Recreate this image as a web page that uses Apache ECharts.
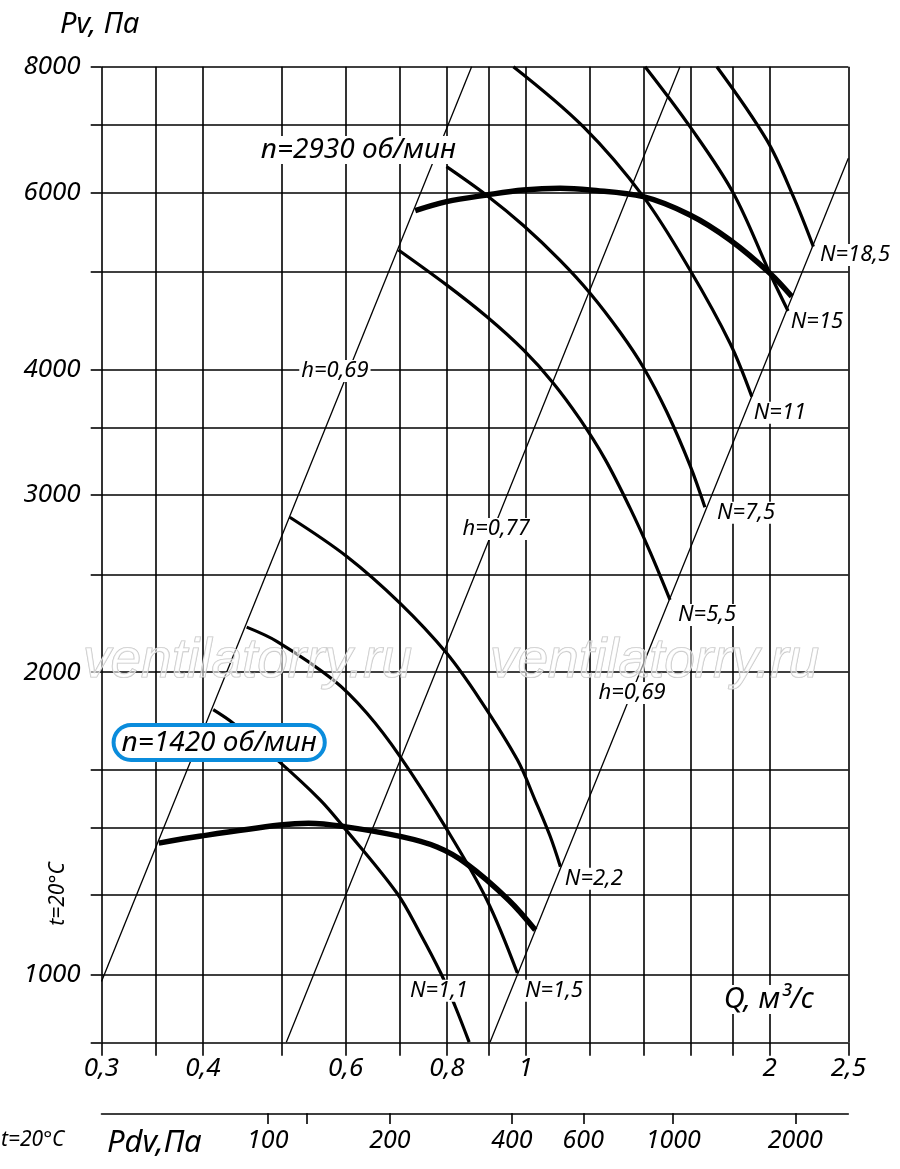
<!DOCTYPE html>
<html>
<head>
<meta charset="utf-8">
<title>Pv - Q</title>
<script src="https://cdn.jsdelivr.net/npm/echarts@6/dist/echarts.min.js"></script>
<style>html,body{margin:0;padding:0;background:#fff;}</style>
</head>
<body>
<div id="main" style="width:900px;height:1169px;"></div>
<script>
// диапазоны осей
var qMin = 0.3, qMax = 2.5;
var pMin = 856, pMax = 8000;
var pdvMin = 38.9, pdvMax = 2703;

// сетка и подписи
var qGrid = [0.3, 0.35, 0.4, 0.5, 0.6, 0.7, 0.8, 0.9, 1, 1.2, 1.4, 1.6, 1.8, 2, 2.5];
var qLabels = [0.3, 0.4, 0.6, 0.8, 1, 2, 2.5];
var pGrid = [1000, 1200, 1400, 1600, 2000, 2500, 3000, 3500, 4000, 5000, 6000, 7000, 8000];
var pLabels = [1000, 2000, 3000, 4000, 6000, 8000];
var pdvTicks = [100, 125, 200, 400, 600, 1000, 2000];
var pdvLabels = [100, 200, 400, 600, 1000, 2000];

// n=2930 об/мин
var thick2930 = [[0.731,5753],[0.799,5873],[0.896,5964],[0.994,6033],[1.103,6057],[1.201,6033],
                 [1.397,5941],[1.595,5697],[1.787,5380],[2.001,4985],[2.129,4726]];
var curveN55 = [[0.697,5258],[0.799,4854],[0.896,4512],[0.994,4182],[1.082,3876],[1.167,3569],
                [1.253,3257],[1.345,2913],[1.424,2634],[1.507,2360]];
var curveN75 = [[0.799,6364],[0.896,5957],[0.994,5561],[1.103,5134],[1.201,4762],[1.308,4355],
                [1.397,4020],[1.493,3630],[1.595,3211],[1.664,2917]];
var curveN11 = [[0.966,8000],[1.178,6973],[1.397,5941],[1.595,5022],[1.787,4247],[1.901,3758]];
var curveN15 = [[1.404,8000],[1.595,6973],[1.804,5988],[2.001,4985],[2.107,4572]];
var curveN185 = [[1.721,8000],[1.983,6765],[2.139,5941],[2.264,5298]];

// n=1420 об/мин
var thick1420 = [[0.353,1352],[0.398,1374],[0.498,1409],[0.540,1415],[0.598,1404],[0.703,1372],
                 [0.778,1340],[0.844,1291],[0.953,1187],[1.028,1108]];
var curveN22 = [[0.512,2851],[0.602,2606],[0.700,2342],[0.799,2089],[0.879,1877],[0.977,1636],
                [1.027,1493],[1.072,1374],[1.104,1281]];
var curveN15low = [[0.453,2217],[0.494,2145],[0.579,1965],[0.637,1821],[0.700,1649],[0.798,1399],
                   [0.896,1187],[0.977,1004]];
var curveN11low = [[0.412,1835],[0.436,1779],[0.494,1636],[0.558,1493],[0.596,1404],[0.694,1206],
                   [0.741,1100],[0.786,1004],[0.819,930],[0.852,857]];

// линии h
var lineH69a = [[0.3,985],[0.858,8000]];
var lineH77 = [[0.507,857],[1.550,8000]];
var lineH69b = [[0.904,857],[2.5,6486]];

// подписи на поле
var noteText = ['N=18,5','N=15','N=11','N=7,5','N=5,5','N=2,2','N=1,1','N=1,5','h=0,69','h=0,77','h=0,69'];
var noteQ = [2.548, 2.287, 2.059, 1.870, 1.674, 1.214, 0.782, 1.084, 0.582, 0.920, 1.353];
var noteP = [5199, 4459, 3621, 2880, 2280, 1246, 964, 964, 3986, 2776, 1907];

var FONT = 'Noto Sans';
var gridLine = {color: '#000', width: 1.6, type: 'solid'};

function fmt(v) { return String(v).replace('.', ','); }

function vLines(values, labels) {
    return values.map(function (v) {
        return {xAxis: v, label: {show: !!labels && labels.indexOf(v) >= 0, formatter: fmt(v)}};
    });
}
function hLines(values, labels) {
    return values.map(function (v) {
        return {yAxis: v, label: {show: !!labels && labels.indexOf(v) >= 0, formatter: fmt(v)}};
    });
}
function markerSeries(xi, yi, data, label) {
    return {
        type: 'line', xAxisIndex: xi, yAxisIndex: yi, data: [], silent: true, z: 1,
        markLine: {
            silent: true, symbol: ['none', 'none'], animation: false,
            lineStyle: gridLine,
            label: Object.assign({show: false, color: '#000', fontStyle: 'italic', fontFamily: FONT}, label || {}),
            emphasis: {disabled: true},
            data: data
        }
    };
}
function curve(data, width) {
    return {
        type: 'line', xAxisIndex: 0, yAxisIndex: 0, data: data, smooth: 0.35,
        showSymbol: false, symbol: 'none', silent: true, z: 3,
        lineStyle: {color: '#000', width: width}
    };
}

var noteData = noteText.map(function (t, i) {
    return {value: [noteQ[i], noteP[i]], label: {formatter: t}};
});
noteData.push({value: [0.622, 6612], label: {formatter: 'n=2930 об/мин', fontSize: 28, padding: [0, 3]}});
noteData.push({value: [0.419, 1702], label: {
    formatter: 'n=1420 об/мин', fontSize: 28, lineHeight: 31, padding: [0, 6],
    borderColor: '#0a8cdc', borderWidth: 4, borderRadius: 20
}});
noteData.push({value: [1.996, 945], label: {formatter: 'Q, м³/с', fontSize: 29, padding: [0, 3]}});

var hidden = {axisLine: {show: false}, axisTick: {show: false}, axisLabel: {show: false}, splitLine: {show: false}};
function axis(type, min, max, extra) {
    return Object.assign({type: type, min: min, max: max}, hidden, extra || {});
}

var chart = echarts.init(document.getElementById('main'));
chart.setOption({
    animation: false,
    backgroundColor: '#fff',
    grid: [
        {left: 101.5, right: 51.7, top: 66.7, height: 976},
        {left: 101.5, right: 51.7, top: 1042.7, height: 13},
        {left: 90.7, width: 10.8, top: 66.7, height: 976},
        {left: 101.5, right: 51.7, top: 1113.3, height: 10.7}
    ],
    xAxis: [
        axis('log', qMin, qMax, {gridIndex: 0}),
        axis('log', qMin, qMax, {gridIndex: 1}),
        axis('value', 0, 1, {gridIndex: 2}),
        axis('log', pdvMin, pdvMax, {gridIndex: 3, position: 'top',
            axisLine: {show: true, onZero: false, lineStyle: gridLine}})
    ],
    yAxis: [
        axis('log', pMin, pMax, {gridIndex: 0}),
        axis('value', 0, 1, {gridIndex: 1}),
        axis('log', pMin, pMax, {gridIndex: 2}),
        axis('value', 0, 1, {gridIndex: 3})
    ],
    series: [
        markerSeries(0, 0, vLines(qGrid).concat(hLines([pMin].concat(pGrid)))),
        markerSeries(1, 1, vLines(qGrid, qLabels), {position: 'start', distance: 0, fontSize: 26}),
        markerSeries(2, 2, hLines([pMin].concat(pGrid), pLabels), {position: 'start', distance: 10, fontSize: 26}),
        markerSeries(3, 3, vLines(pdvTicks, pdvLabels), {position: 'start', distance: 4, fontSize: 25}),

        curve(lineH69a, 1.3), curve(lineH77, 1.3), curve(lineH69b, 1.3),
        curve(curveN55, 3.2), curve(curveN75, 3.2), curve(curveN11, 3.2),
        curve(curveN15, 3.2), curve(curveN185, 3.2), curve(thick2930, 5.5),
        curve(curveN22, 3.2), curve(curveN15low, 3.2), curve(curveN11low, 3.2), curve(thick1420, 5.5),

        {
            type: 'scatter', xAxisIndex: 0, yAxisIndex: 0, clip: false, silent: true, z: 6,
            symbolSize: 1, itemStyle: {color: 'rgba(0,0,0,0)', opacity: 1},
            label: {
                show: true, position: 'inside', color: '#000', opacity: 1, fontStyle: 'italic',
                fontFamily: FONT, fontSize: 22, backgroundColor: '#fff', padding: [0, 2]
            },
            data: noteData
        }
    ],
    graphic: [
        {type: 'text', x: 60, y: 25, z: 10, style: {text: 'Pv, Па', font: 'italic 29px "Noto Sans"', fill: '#000', align: 'left', verticalAlign: 'middle'}},
        {type: 'text', x: 107, y: 1143, z: 10, style: {text: 'Pdv,Па', font: 'italic 31px "Noto Sans"', fill: '#000', align: 'left', verticalAlign: 'middle'}},
        {type: 'text', x: 1, y: 1140, z: 10, style: {text: 't=20°C', font: 'italic 21px "Noto Sans"', fill: '#000', align: 'left', verticalAlign: 'middle'}},
        {type: 'text', x: 58, y: 894, rotation: Math.PI / 2, z: 10, style: {text: 't=20°C', font: 'italic 21px "Noto Sans"', fill: '#000', align: 'center', verticalAlign: 'middle'}},
        {type: 'text', x: 83, y: 662, z: 9, silent: true, style: {text: 'ventilatorry.ru', font: 'italic 55px "Liberation Sans"', fill: 'rgba(255,255,255,0.55)', stroke: '#c4c4c4', lineWidth: 1.2, align: 'left', verticalAlign: 'middle'}},
        {type: 'text', x: 490, y: 662, z: 9, silent: true, style: {text: 'ventilatorry.ru', font: 'italic 55px "Liberation Sans"', fill: 'rgba(255,255,255,0.55)', stroke: '#c4c4c4', lineWidth: 1.2, align: 'left', verticalAlign: 'middle'}}
    ]
});
</script>
</body>
</html>
